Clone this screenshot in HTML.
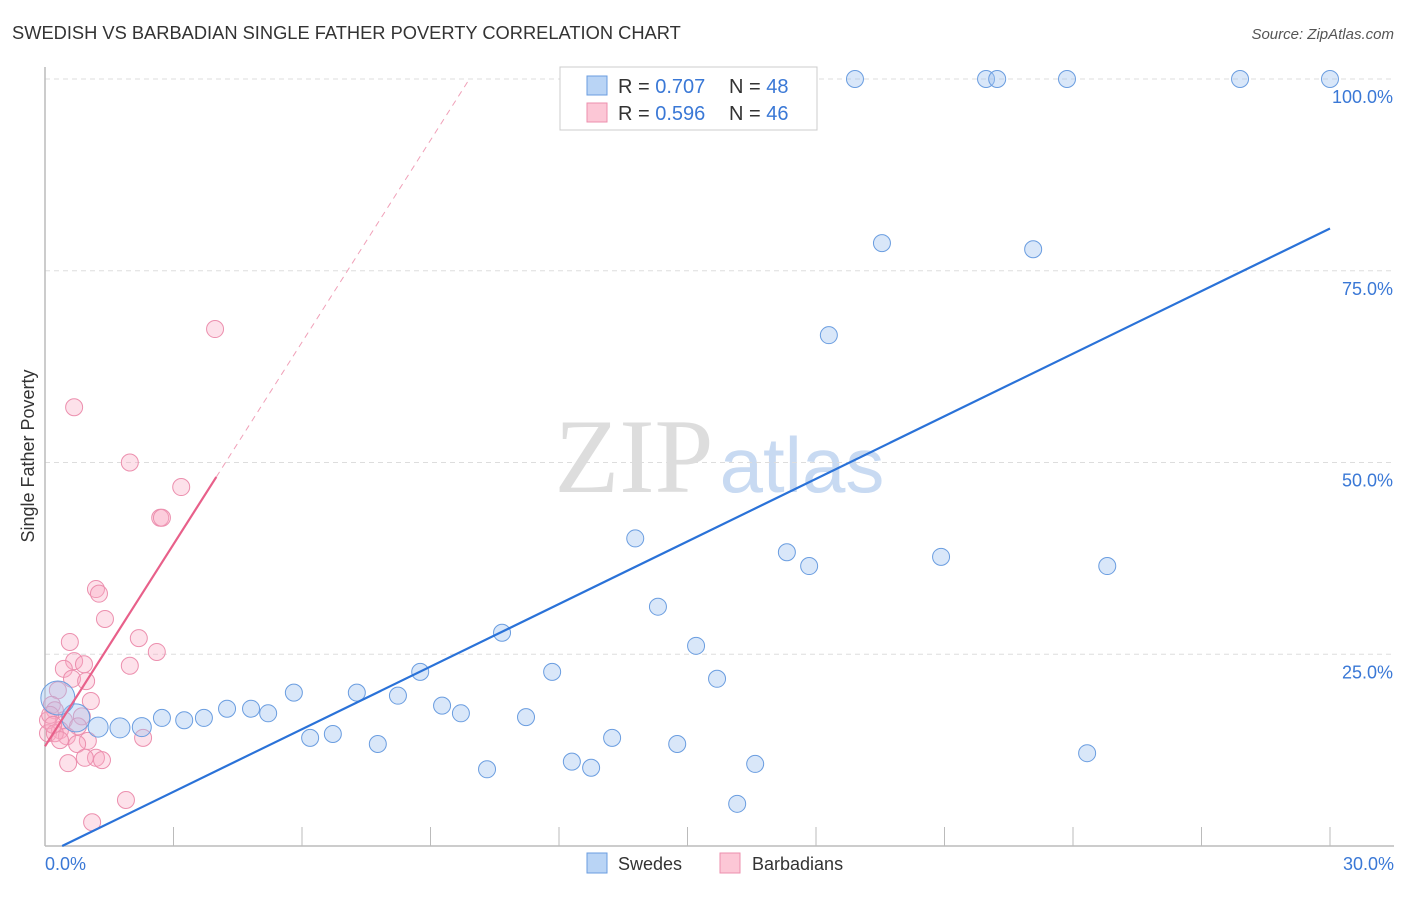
<!DOCTYPE html>
<html><head><meta charset="utf-8"><style>
body{margin:0;background:#fff;font-family:"Liberation Sans",sans-serif}
</style></head><body>
<svg width="1406" height="892" xmlns="http://www.w3.org/2000/svg" id="svg">
<text x="12" y="39" font-size="18.3" fill="#333">SWEDISH VS BARBADIAN SINGLE FATHER POVERTY CORRELATION CHART</text>
<text x="1394" y="39" font-size="15" fill="#555" font-style="italic" text-anchor="end">Source: ZipAtlas.com</text>
<text x="634" y="492" font-size="106" fill="#ddd" font-family="Liberation Serif,serif" text-anchor="middle">ZIP</text>
<text x="802" y="492" font-size="78" fill="#c8daf2" text-anchor="middle">atlas</text>
<text x="34" y="456" font-size="18" fill="#333" transform="rotate(-90 34 456)" text-anchor="middle">Single Father Poverty</text>
<g id="grid"></g><g id="marks"></g>
<rect x="560" y="67" width="257" height="63" fill="#fff" stroke="#ccc"/>
<rect x="587" y="76" width="20" height="19" fill="#b9d4f5" stroke="#6a9de0"/>
<rect x="587" y="103" width="20" height="19" fill="#fcc7d6" stroke="#ec8fae"/>
<text x="618" y="93" font-size="20" fill="#333">R = <tspan fill="#3a78d6">0.707</tspan></text>
<text x="729" y="93" font-size="20" fill="#333">N = <tspan fill="#3a78d6">48</tspan></text>
<text x="618" y="120" font-size="20" fill="#333">R = <tspan fill="#3a78d6">0.596</tspan></text>
<text x="729" y="120" font-size="20" fill="#333">N = <tspan fill="#3a78d6">46</tspan></text>
<rect x="587" y="853" width="20" height="20" fill="#b9d4f5" stroke="#6a9de0"/>
<text x="618" y="870" font-size="18" fill="#333">Swedes</text>
<rect x="720" y="853" width="20" height="20" fill="#fcc7d6" stroke="#ec8fae"/>
<text x="752" y="870" font-size="18" fill="#333">Barbadians</text>
</svg>
<script>
const yTicks=[25,50,75,100];
const xTickLabels=["0.0%","30.0%"];
const blueX=[18.91,21.97,22.23,23.86,27.90,30.0,19.54,23.07,18.30,13.78,17.32,20.92,17.84,24.80,14.31,10.67,15.20,8.76,11.84,15.69,5.81,7.28,8.24,9.27,9.71,11.23,4.81,4.25,5.21,3.71,3.25,2.73,2.26,1.75,1.24,0.72,0.30,6.19,6.72,7.77,13.24,14.76,24.33,10.32,12.30,12.75,16.58,16.16];
const blueY=[100,100,100,100,100,100,78.6,77.8,66.6,40.1,38.3,37.7,36.5,36.5,31.2,27.8,26.1,22.7,22.7,21.8,20.0,20.0,19.6,18.3,17.3,16.8,17.9,17.9,17.3,16.7,16.4,16.7,15.5,15.4,15.5,16.7,19.3,14.1,14.6,13.3,14.1,13.3,12.1,10.0,11.0,10.2,10.7,5.5];
const blueR=[8.5,8.5,8.5,8.5,8.5,8.5,8.5,8.5,8.5,8.5,8.5,8.5,8.5,8.5,8.5,8.5,8.5,8.5,8.5,8.5,8.5,8.5,8.5,8.5,8.5,8.5,8.5,8.5,8.5,8.5,8.5,8.5,9.5,10,10,14,17,8.5,8.5,8.5,8.5,8.5,8.5,8.5,8.5,8.5,8.5,8.5];
const pinkX=[3.97,0.68,1.98,3.18,2.69,2.73,1.19,1.26,1.40,2.19,0.58,2.61,0.68,0.91,0.44,1.98,0.63,0.96,0.30,1.07,0.16,0.23,0.86,0.07,0.44,0.77,0.35,0.07,0.51,1.00,0.75,2.29,0.54,1.19,1.33,0.93,1.89,1.10,0.23,0.12,0.35,0.19];
const pinkY=[67.4,57.2,50.0,46.8,42.8,42.8,33.5,32.9,29.6,27.1,26.6,25.3,24.1,23.7,23.1,23.5,21.8,21.5,20.3,18.9,18.4,17.7,16.9,16.4,16.4,15.6,15.1,14.7,14.3,13.7,13.3,14.1,10.8,11.5,11.2,11.5,6.0,3.1,14.7,17.1,13.8,15.8];
const blueSlope=2.72, blueIntercept=-1.09, pinkSlope=8.78, pinkIntercept=13.0;
const X=v=>45+v*42.833, Y=v=>846-v*7.67;
const NS="http://www.w3.org/2000/svg";
const grid=document.getElementById('grid'), marks=document.getElementById('marks');
function mk(tag,attrs,parent){const e=document.createElementNS(NS,tag);for(const k in attrs)e.setAttribute(k,attrs[k]);parent.appendChild(e);return e;}
yTicks.forEach(t=>{
 const l=mk('line',{x1:45,x2:1394,y1:Y(t),y2:Y(t),stroke:'#ddd','stroke-dasharray':'5,4'},grid);
 
 
 const tx=mk('text',{x:1393,y:Y(t)+24,'font-size':18,fill:'#3a78d6','text-anchor':'end'},grid);
 tx.textContent=t.toFixed(1)+'%';
 
 
});
const ax=mk('line',{x1:45,x2:1394,y1:846,y2:846,stroke:'#bbb','stroke-width':1.5},grid);


const ay=mk('line',{x1:45,x2:45,y1:67,y2:846,stroke:'#bbb','stroke-width':1.5},grid);


for(let i=1;i<=10;i++){const t=mk('line',{x1:X(i*3),x2:X(i*3),y1:827,y2:846,stroke:'#bbb'},grid);
 
 }
[[0,'start',45],[30,'end',1394]].forEach((d,i)=>{const t=mk('text',{x:d[2],y:870,'font-size':18,fill:'#3a78d6','text-anchor':d[1]},grid);t.textContent=xTickLabels[i];
 
 });
pinkX.forEach((x,i)=>{const c=mk('circle',{cx:X(x),cy:Y(pinkY[i]),r:8.5,fill:'rgba(248,170,195,0.35)',stroke:'#ec8fae','stroke-width':1},marks);
 
 });
blueX.forEach((x,i)=>{const c=mk('circle',{cx:X(x),cy:Y(blueY[i]),r:blueR[i],fill:'rgba(160,195,240,0.4)',stroke:'#6a9de0','stroke-width':1},marks);
 
 });
const x0b=-blueIntercept/blueSlope;
const bl=mk('line',{x1:X(x0b),y1:Y(0),x2:X(30),y2:Y(blueIntercept+blueSlope*30),stroke:'#2a72d8','stroke-width':2.2},marks);


const pl=mk('line',{x1:X(0),y1:Y(pinkIntercept),x2:X(4),y2:Y(pinkIntercept+pinkSlope*4),stroke:'#e8608a','stroke-width':2.2},marks);


const xe=(100-pinkIntercept)/pinkSlope;
const pd=mk('line',{x1:X(4),y1:Y(pinkIntercept+pinkSlope*4),x2:X(xe),y2:Y(100),stroke:'#f0a0b8','stroke-width':1,'stroke-dasharray':'6,5'},marks);


</script>
</body></html>
